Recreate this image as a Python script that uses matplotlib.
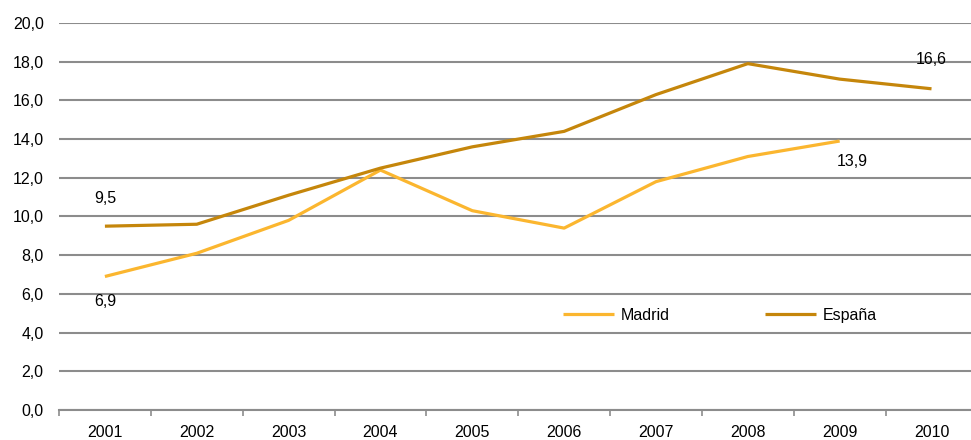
import matplotlib
matplotlib.use("Agg")
import matplotlib.pyplot as plt
from matplotlib.ticker import FixedLocator, FuncFormatter

plt.rcParams["font.family"] = ["Liberation Sans Narrow", "Liberation Sans", "DejaVu Sans"]

years = ["2001", "2002", "2003", "2004", "2005", "2006", "2007", "2008", "2009", "2010"]
madrid = [6.9, 8.1, 9.8, 12.4, 10.3, 9.4, 11.8, 13.1, 13.9]
espana = [9.5, 9.6, 11.1, 12.5, 13.6, 14.4, 16.3, 17.9, 17.1, 16.6]

C_MAD = "#FBB62F"
C_ESP = "#C5860B"
GRID = "#8c8c8c"
FS = 11.5


def fmt(v):
    return "{:.1f}".format(v).replace(".", ",")


fig = plt.figure(figsize=(9.71, 4.40), dpi=100)
ax = fig.add_axes([59 / 971, 30 / 440, 1 - 59 / 971, (410 - 23) / 440])

x_esp = list(range(len(espana)))
x_mad = list(range(len(madrid)))
ax.plot(x_mad, madrid, color=C_MAD, lw=2.3, label="Madrid", solid_capstyle="butt")
ax.plot(x_esp, espana, color=C_ESP, lw=2.3, label="España", solid_capstyle="butt")

ax.set_ylim(0, 20)
ax.set_xlim(-0.5, 9.43)
ax.set_yticks([i * 2 for i in range(11)])
ax.yaxis.set_major_formatter(FuncFormatter(lambda v, p: fmt(v)))
ax.grid(axis="y", color=GRID, lw=1.5)
ax.set_axisbelow(True)

ax.set_xticks(x_esp)
ax.set_xticklabels(years)
ax.xaxis.set_minor_locator(FixedLocator([i - 0.5 for i in range(11)]))
ax.tick_params(axis="x", which="major", length=0, pad=11, labelsize=FS)
ax.tick_params(axis="x", which="minor", length=4, width=1.2, color=GRID)
ax.tick_params(axis="y", length=0, pad=11, labelsize=FS)

for s in ["top", "right", "left"]:
    ax.spines[s].set_visible(False)
ax.spines["bottom"].set_color(GRID)
ax.spines["bottom"].set_linewidth(1.5)

# data labels
ax.annotate(fmt(espana[0]), (x_esp[0], espana[0]), xytext=(0, 20), textcoords="offset points",
            ha="center", va="center", fontsize=FS)
ax.annotate(fmt(madrid[0]), (x_mad[0], madrid[0]), xytext=(0, -18), textcoords="offset points",
            ha="center", va="center", fontsize=FS)
ax.annotate(fmt(madrid[-1]), (x_mad[-1], madrid[-1]), xytext=(9, -15), textcoords="offset points",
            ha="center", va="center", fontsize=FS)
ax.annotate(fmt(espana[-1]), (x_esp[-1], espana[-1]), xytext=(0, 21), textcoords="offset points",
            ha="center", va="center", fontsize=FS)

fig.legend(loc="center", bbox_to_anchor=(720 / 971, 1 - 315 / 440), ncol=2, frameon=False,
           fontsize=FS, handlelength=3.2, columnspacing=6, handletextpad=0.4)

fig.savefig("out.png", dpi=100)
